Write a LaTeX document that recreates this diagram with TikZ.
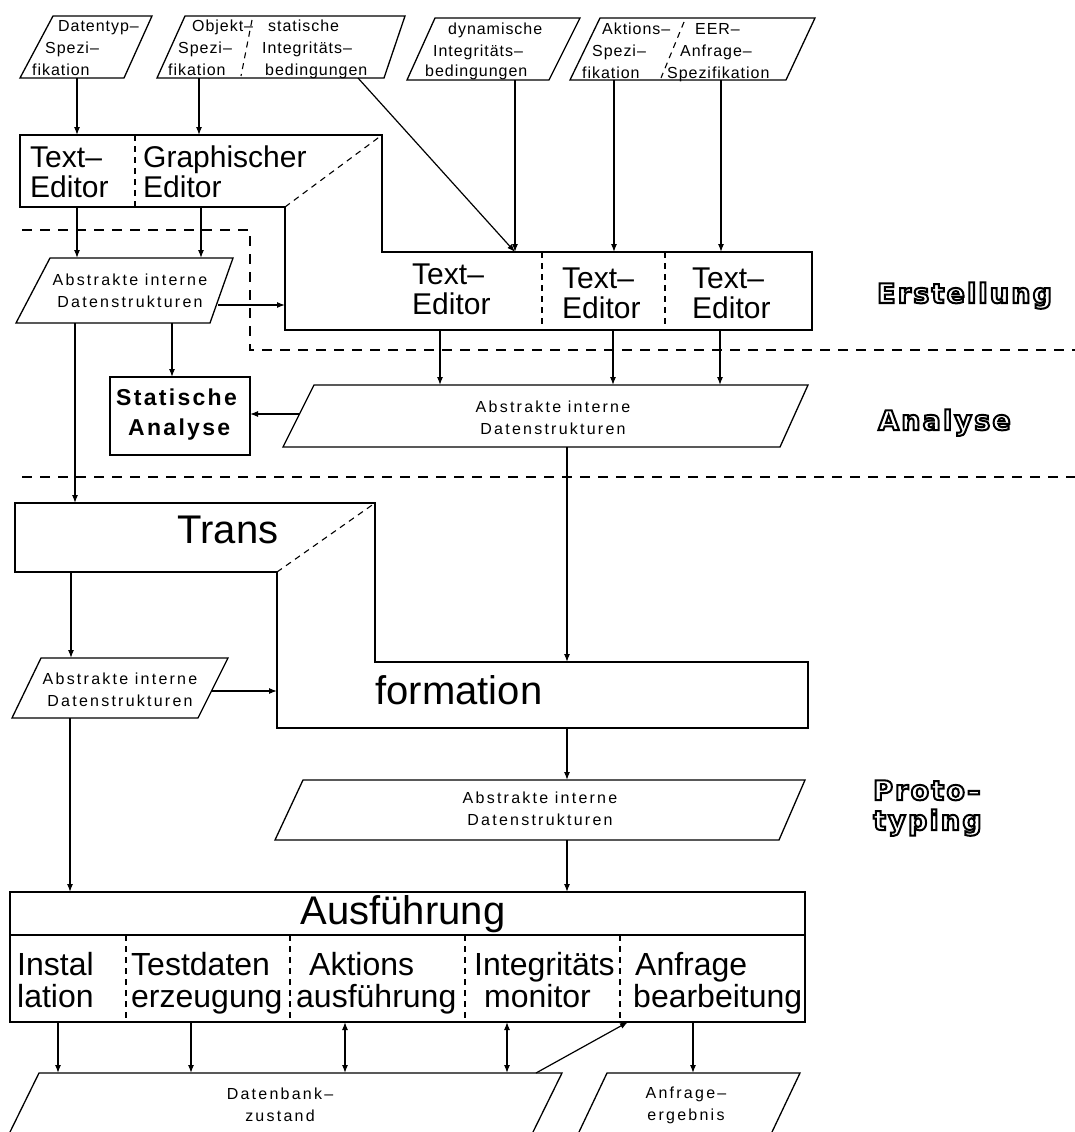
\documentclass[tikz,border=0pt]{standalone}
\usepackage{fontspec}
\setmainfont{Liberation Sans}
\newfontfamily\tfa[LetterSpace=6]{Liberation Sans}
\newfontfamily\tfb[LetterSpace=14]{Liberation Sans}
\newfontfamily\tfc[LetterSpace=10]{Liberation Sans}
\newfontfamily\tfd[LetterSpace=8]{DejaVu Sans}
\newcommand{\hollow}[1]{\special{pdf:literal direct 1 Tr 2 w}#1\special{pdf:literal direct 0 Tr}}
\usetikzlibrary{arrows.meta}
\tikzset{
  ln/.style={line width=1.3pt, line join=miter},
  arr/.style={line width=1.2pt, -{Latex[length=8pt,width=6pt]}},
  darr/.style={line width=1.2pt, {Latex[length=8pt,width=6pt]}-{Latex[length=8pt,width=6pt]}},
  phaseline/.style={line width=1.3pt, dash pattern=on 10pt off 8pt},
  divline/.style={line width=1.1pt, dash pattern=on 6pt off 5pt},
  toptxt/.style={font=\tfa\fontsize{16}{20}\selectfont, inner sep=0pt, anchor=base west},
  adtxt/.style={font=\tfb\fontsize{16}{22}\selectfont, inner sep=0pt, align=center},
  edtxt/.style={font=\fontsize{30}{34}\selectfont, inner sep=0pt, anchor=base west},
  bigtxt/.style={font=\fontsize{40}{44}\selectfont, inner sep=0pt},
  rowtxt/.style={font=\fontsize{32}{34}\selectfont, inner sep=0pt, anchor=base west},
  sttxt/.style={font=\tfc\bfseries\fontsize{23}{28}\selectfont, inner sep=0pt, anchor=base west},
  phtxt/.style={font=\tfd\bfseries\fontsize{27}{30}\selectfont, inner sep=0pt, anchor=base west},
}
\begin{document}
\begin{tikzpicture}[x=1pt,y=-1pt]
\useasboundingbox (0,0) rectangle (1075,1132);

% ---------------- phase separators
\draw[phaseline] (22,230) -- (250,230) -- (250,350) -- (1075,350);
\draw[phaseline] (22,477) -- (1075,477);

% ---------------- top input parallelograms
\draw[ln] (53,16) -- (152,16) -- (124,78) -- (20,78) -- cycle;
\draw[ln] (185,16) -- (405,16) -- (384,78) -- (157,78) -- cycle;
\draw[divline] (252,20) -- (241,76);
\draw[ln] (435,18) -- (580,18) -- (549,80) -- (407,80) -- cycle;
\draw[ln] (600,18) -- (815,18) -- (786,80) -- (570,80) -- cycle;
\draw[divline] (684,22) -- (661,78);

\node[toptxt] (d1) at (58,32) {Datentyp–};
\node[toptxt] (d2) at (45,54) {Spezi–};
\node[toptxt] (d3) at (32,75) {fikation};

\node[toptxt] (o1) at (192,32) {Objekt–};
\node[toptxt] (o2) at (178,54) {Spezi–};
\node[toptxt] (o3) at (168,75) {fikation};
\node[toptxt] (s1) at (268,32) {statische};
\node[toptxt] (s2) at (262,54) {Integritäts–};
\node[toptxt] (s3) at (265,75) {bedingungen};

\node[toptxt] (y1) at (448,35) {dynamische};
\node[toptxt] (y2) at (433,57) {Integritäts–};
\node[toptxt] (y3) at (425,77) {bedingungen};

\node[toptxt] (a1) at (602,35) {Aktions–};
\node[toptxt] (a2) at (592,57) {Spezi–};
\node[toptxt] (a3) at (582,78) {fikation};
\node[toptxt] (q1) at (695,35) {EER–};
\node[toptxt] (q2) at (680,57) {Anfrage–};
\node[toptxt] (q3) at (667,78) {Spezifikation};

% ---------------- editors (Erstellung)
\draw[ln] (20,135) -- (382,135) -- (382,252) -- (812,252) -- (812,330) -- (285,330) -- (285,207) -- (20,207) -- cycle;
\draw[divline] (285,207) -- (382,135);
\draw[divline] (135,135) -- (135,207);
\draw[divline] (542,252) -- (542,330);
\draw[divline] (665,252) -- (665,330);

\node[edtxt] (e1a) at (30,167) {Text–};
\node[edtxt] (e1b) at (30,197) {Editor};
\node[edtxt] (e2a) at (143,167) {Graphischer};
\node[edtxt] (e2b) at (143,197) {Editor};
\node[edtxt] (e3a) at (412,284) {Text–};
\node[edtxt] (e3b) at (412,314) {Editor};
\node[edtxt] (e4a) at (562,288) {Text–};
\node[edtxt] (e4b) at (562,318) {Editor};
\node[edtxt] (e5a) at (692,288) {Text–};
\node[edtxt] (e5b) at (692,318) {Editor};

% ---------------- abstract structures 1
\draw[ln] (50,258) -- (233,258) -- (210,323) -- (16,323) -- cycle;
\node[adtxt] (ad1) at (130,291) {Abstrakte interne\\Datenstrukturen};

\draw[ln] (110,377) rectangle (250,455);
\node[sttxt] (st1) at (116,405) {Statische};
\node[sttxt] (st2) at (128,435) {Analyse};

\draw[ln] (314,385) -- (808,385) -- (780,447) -- (283,447) -- cycle;
\node[adtxt] (ad2) at (553,418) {Abstrakte interne\\Datenstrukturen};

% ---------------- Transformation
\draw[ln] (15,503) -- (375,503) -- (375,662) -- (808,662) -- (808,728) -- (277,728) -- (277,572) -- (15,572) -- cycle;
\draw[divline] (277,572) -- (375,503);
\node[bigtxt] (tr1) at (228,530) {Trans};
\node[bigtxt] (tr2) at (459,690) {formation};

\draw[ln] (41,658) -- (228,658) -- (198,718) -- (12,718) -- cycle;
\node[adtxt] (ad3) at (120,690) {Abstrakte interne\\Datenstrukturen};

\draw[ln] (303,780) -- (805,780) -- (779,840) -- (275,840) -- cycle;
\node[adtxt] (ad4) at (540,809) {Abstrakte interne\\Datenstrukturen};

% ---------------- Ausfuehrung
\draw[ln] (10,892) rectangle (805,1022);
\draw[ln] (10,935) -- (805,935);
\node[bigtxt] (au) at (403,914) {Ausführung};
\draw[divline] (126,935) -- (126,1022);
\draw[divline] (290,935) -- (290,1022);
\draw[divline] (465,935) -- (465,1022);
\draw[divline] (620,935) -- (620,1022);

\node[rowtxt] (r1a) at (17,975) {Instal};
\node[rowtxt] (r1b) at (17,1007) {lation};
\node[rowtxt] (r2a) at (131,975) {Testdaten};
\node[rowtxt] (r2b) at (131,1007) {erzeugung};
\node[rowtxt] (r3a) at (309,975) {Aktions};
\node[rowtxt] (r3b) at (296,1007) {ausführung};
\node[rowtxt] (r4a) at (474,975) {Integritäts};
\node[rowtxt] (r4b) at (484,1007) {monitor};
\node[rowtxt] (r5a) at (635,975) {Anfrage};
\node[rowtxt] (r5b) at (633,1007) {bearbeitung};

% ---------------- results
\draw[ln] (10,1132) -- (39,1073) -- (562,1073) -- (533,1132);
\node[adtxt] (db) at (280,1105) {Datenbank–\\zustand};
\draw[ln] (579,1132) -- (607,1073) -- (800,1073) -- (772,1132);
\node[adtxt] (ae) at (686,1105) {Anfrage–\\ergebnis};

% ---------------- phase labels
\node[phtxt] (ph1) at (877,303) {\hollow{Erstellung}};
\node[phtxt] (ph2) at (878,430) {\hollow{Analyse}};
\node[phtxt] (ph3) at (873,800) {\hollow{Proto–}};
\node[phtxt] (ph4) at (873,830) {\hollow{typing}};

% ---------------- connector end points
\coordinate (p1b) at (77,78);   \coordinate (e1t) at (77,135);
\coordinate (p2b) at (199,78);  \coordinate (e2t) at (199,135);
\coordinate (p2r) at (358,78);  \coordinate (e3t) at (515,252);
\coordinate (p3b) at (515,80);
\coordinate (p4a) at (614,80);  \coordinate (e4t) at (614,252);
\coordinate (p4b) at (721,80);  \coordinate (e5t) at (721,252);
\coordinate (e1b) at (77,207);  \coordinate (ad1ta) at (77,258);
\coordinate (e2b) at (201,207); \coordinate (ad1tb) at (201,258);
\coordinate (ad1r) at (218,305); \coordinate (rbl) at (285,305);
\coordinate (ad1ba) at (172,323); \coordinate (stt) at (172,377);
\coordinate (ad1bb) at (75,323); \coordinate (trt) at (75,503);
\coordinate (rb1) at (440,330); \coordinate (ad2t1) at (440,385);
\coordinate (rb2) at (613,330); \coordinate (ad2t2) at (613,385);
\coordinate (rb3) at (720,330); \coordinate (ad2t3) at (720,385);
\coordinate (ad2l) at (300,414); \coordinate (str) at (250,414);
\coordinate (ad2b) at (567,447); \coordinate (fmt) at (567,662);
\coordinate (trb) at (71,572);  \coordinate (ad3t) at (71,658);
\coordinate (ad3r) at (212,691); \coordinate (fml) at (277,691);
\coordinate (ad3b) at (70,718); \coordinate (aut1) at (70,892);
\coordinate (fmb) at (567,728); \coordinate (ad4t) at (567,780);
\coordinate (ad4b) at (567,840); \coordinate (aut2) at (567,892);
\coordinate (ab1) at (58,1022);  \coordinate (db1) at (58,1073);
\coordinate (ab2) at (191,1022); \coordinate (db2) at (191,1073);
\coordinate (ab3) at (345,1022); \coordinate (db3) at (345,1073);
\coordinate (ab4) at (507,1022); \coordinate (db4) at (507,1073);
\coordinate (ab5) at (693,1022); \coordinate (ae1) at (693,1073);
\coordinate (dbr) at (536,1073); \coordinate (ab6) at (628,1022);

% ---------------- connectors
\draw[arr] (p1b) -- (e1t);
\draw[arr] (p2b) -- (e2t);
\draw[arr] (p2r) -- (e3t);
\draw[arr] (p3b) -- (e3t);
\draw[arr] (p4a) -- (e4t);
\draw[arr] (p4b) -- (e5t);
\draw[arr] (e1b) -- (ad1ta);
\draw[arr] (e2b) -- (ad1tb);
\draw[arr] (ad1r) -- (rbl);
\draw[arr] (ad1ba) -- (stt);
\draw[arr] (ad1bb) -- (trt);
\draw[arr] (rb1) -- (ad2t1);
\draw[arr] (rb2) -- (ad2t2);
\draw[arr] (rb3) -- (ad2t3);
\draw[arr] (ad2l) -- (str);
\draw[arr] (ad2b) -- (fmt);
\draw[arr] (trb) -- (ad3t);
\draw[arr] (ad3r) -- (fml);
\draw[arr] (ad3b) -- (aut1);
\draw[arr] (fmb) -- (ad4t);
\draw[arr] (ad4b) -- (aut2);
\draw[arr] (ab1) -- (db1);
\draw[arr] (ab2) -- (db2);
\draw[darr] (ab3) -- (db3);
\draw[darr] (ab4) -- (db4);
\draw[arr] (ab5) -- (ae1);
\draw[arr] (dbr) -- (ab6);
\end{tikzpicture}
\end{document}
